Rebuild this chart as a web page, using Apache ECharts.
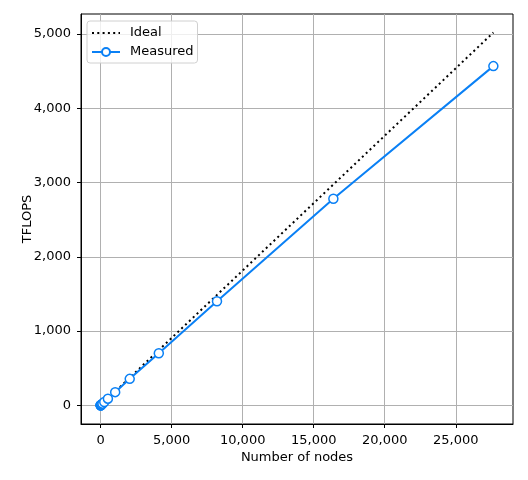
<!DOCTYPE html>
<html>
<head>
<meta charset="utf-8">
<script src="https://cdn.jsdelivr.net/npm/echarts@6/dist/echarts.min.js"></script>
<style>
  html, body { margin: 0; padding: 0; background: #fff; }
  #chart { width: 528px; height: 480px; }
</style>
</head>
<body>
<div id="chart"></div>
<script>
// node counts and throughput (TFLOPS)
var nodes = [1, 2, 4, 8, 16, 32, 64, 128, 256, 512, 1024, 2048, 4096, 8192, 16384, 27648];
var ideal = [0.18, 0.36, 0.73, 1.45, 2.9, 5.8, 11.6, 23.2, 46.5, 93, 186, 372, 744, 1488, 2975, 5021];
var measured = [0.18, 0.36, 0.72, 1.44, 2.87, 5.7, 11.3, 22.5, 45, 90, 178, 357, 702, 1402, 2783, 4569];
var xTicks = [0, 5000, 10000, 15000, 20000, 25000];
var yTicks = [0, 1000, 2000, 3000, 4000, 5000];

var blue = '#0a80f5';
var font = 'DejaVu Sans';

function pairs(xs, ys) {
    var out = [];
    for (var i = 0; i < xs.length; i++) out.push([xs[i], ys[i]]);
    return out;
}

var myChart = echarts.init(document.getElementById('chart'));

var option = {
    animation: false,
    textStyle: { fontFamily: font },
    grid: {
        left: 81, right: 15, top: 14, bottom: 56,
        show: true, borderColor: '#000', borderWidth: 1, backgroundColor: 'transparent'
    },
    legend: {
        orient: 'vertical',
        left: 87, top: 21,
        padding: [5, 4, 4, 4],
        itemWidth: 28, itemHeight: 10, itemGap: 5,
        backgroundColor: 'rgba(255,255,255,0.8)',
        borderColor: '#d0d0d0', borderWidth: 1, borderRadius: 3,
        textStyle: { fontFamily: font, fontSize: 13, color: '#000', lineHeight: 14, padding: [0, 0, 0, 5] },
        data: [
            { name: 'Ideal', itemStyle: { opacity: 0 } },
            'Measured'
        ]
    },
    xAxis: {
        type: 'value',
        min: -1382, max: 29030,
        name: 'Number of nodes',
        nameLocation: 'middle',
        nameGap: 27,
        nameMoveOverlap: false,
        nameTextStyle: { fontFamily: font, fontSize: 13, color: '#000' },
        axisLine: { show: true, onZero: false, lineStyle: { color: '#000', width: 1 } },
        axisTick: { show: true, length: 4, customValues: xTicks, lineStyle: { color: '#000' } },
        axisLabel: { margin: 10, fontFamily: font, fontSize: 13, color: '#000', customValues: xTicks },
        splitLine: { show: true, lineStyle: { color: '#b0b0b0', width: 1 } }
    },
    yAxis: {
        type: 'value',
        min: -251, max: 5271,
        name: 'TFLOPS',
        nameLocation: 'middle',
        nameGap: 47,
        nameMoveOverlap: false,
        nameTextStyle: { fontFamily: font, fontSize: 13, color: '#000' },
        axisLine: { show: true, onZero: false, lineStyle: { color: '#000', width: 1 } },
        axisTick: { show: true, length: 4, customValues: yTicks, lineStyle: { color: '#000' } },
        axisLabel: { margin: 10, fontFamily: font, fontSize: 13, color: '#000', customValues: yTicks },
        splitLine: { show: true, lineStyle: { color: '#b0b0b0', width: 1 } }
    },
    series: [
        {
            name: 'Ideal',
            type: 'line',
            data: pairs(nodes, ideal),
            symbol: 'none',
            lineStyle: { color: '#000', width: 2, type: [2, 3.3] },
            itemStyle: { color: '#000' },
            z: 2
        },
        {
            name: 'Measured',
            type: 'line',
            data: pairs(nodes, measured),
            symbol: 'circle',
            symbolSize: 9,
            showAllSymbol: true,
            lineStyle: { color: blue, width: 2 },
            itemStyle: { color: '#fff', borderColor: blue, borderWidth: 1.5 },
            z: 3
        }
    ]
};

myChart.setOption(option, true);
</script>
</body>
</html>
